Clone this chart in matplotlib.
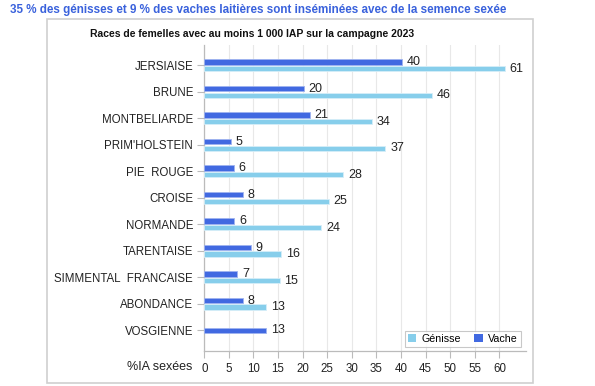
import numpy as np
import matplotlib
matplotlib.use("Agg")
import matplotlib.pyplot as plt
from matplotlib.patches import Rectangle, Patch
from matplotlib import font_manager

plt.rcParams['font.family'] = ['Liberation Sans', 'DejaVu Sans']

races = ["JERSIAISE", "BRUNE", "MONTBELIARDE", "PRIM'HOLSTEIN", "PIE  ROUGE",
         "CROISE", "NORMANDE", "TARENTAISE", "SIMMENTAL  FRANCAISE", "ABONDANCE", "VOSGIENNE"]
genisse = [61.1, 46.3, 34.1, 36.8, 28.2, 25.3, 23.8, 15.6, 15.3, 12.6, np.nan]
vache = [40.2, 20.2, 21.4, 5.4, 6.0, 7.8, 6.1, 9.4, 6.7, 7.8, 12.6]
xticks = [0, 5, 10, 15, 20, 25, 30, 35, 40, 45, 50, 55, 60]

W, H = 595, 386
fig = plt.figure(figsize=(W / 100, H / 100), dpi=100)

def fx(px):
    return px / W

def fy(py):
    return 1 - py / H

names = {f.name for f in font_manager.fontManager.ttflist}
title_family = ['Liberation Sans Narrow'] if 'Liberation Sans Narrow' in names else ['Liberation Sans']

# outer frame
fig.patches.append(Rectangle((fx(47), fy(383)), fx(533) - fx(47), fy(19) - fy(383),
                             transform=fig.transFigure, fill=False,
                             edgecolor='#CFCFCF', linewidth=1.2))

renderer = fig.canvas.get_renderer()

def fit_text(x, y, s, target_w, size, **kw):
    t = fig.text(x, y, s, fontsize=size, **kw)
    w = t.get_window_extent(renderer=renderer).width
    t.set_fontsize(size * target_w / w)
    return t

fit_text(fx(10), fy(10), "35 % des génisses et 9 % des vaches laitières sont inséminées avec de la semence sexée",
         497, 10, ha='left', va='center', fontweight='bold', color='#3A62DC', family=title_family)
fit_text(fx(252.5), fy(34), "Races de femelles avec au moins 1 000 IAP sur la campagne 2023",
         325, 8, ha='center', va='center', fontweight='bold', color='#111111')

ax = fig.add_axes([fx(204.3), fy(350.7), fx(526) - fx(204.3), fy(45) - fy(350.7)])

c_gen = '#87CEEB'
c_vac = '#4169E1'
n = len(races)
ypos = np.arange(n)
bh = 0.2
for i in range(n):
    g = genisse[i]
    v = vache[i]
    if np.isnan(g):
        ax.barh(ypos[i], v, height=bh, color=c_vac, edgecolor='#9FB3EF', linewidth=0.6, zorder=3)
        ax.annotate(f"{v:.0f}", (v, ypos[i]), xytext=(3.5, 0), textcoords='offset points',
                    ha='left', va='center', fontsize=9, color='#222222')
    else:
        ax.barh(ypos[i] - 0.125, v, height=bh, color=c_vac, edgecolor='#9FB3EF', linewidth=0.6, zorder=3)
        ax.barh(ypos[i] + 0.125, g, height=bh, color=c_gen, edgecolor='#D6EEF8', linewidth=0.6, zorder=3)
        ax.annotate(f"{v:.0f}", (v, ypos[i] - 0.125), xytext=(3.5, 0), textcoords='offset points',
                    ha='left', va='center', fontsize=9, color='#222222')
        ax.annotate(f"{g:.0f}", (g, ypos[i] + 0.125), xytext=(3.5, 0), textcoords='offset points',
                    ha='left', va='center', fontsize=9, color='#222222')

ax.set_xlim(0, 65.4)
ax.set_ylim(n - 1 + 0.77, -0.77)
ax.set_yticks(ypos)
ax.set_yticklabels(races, fontsize=8.3, color='#222222')
ax.set_xticks(xticks)
ax.set_xticklabels([str(t) for t in xticks], fontsize=8.3, color='#222222')
ax.tick_params(axis='both', color='#BBBBBB', length=5, width=0.8)
ax.tick_params(axis='y', pad=3)
ax.tick_params(axis='x', pad=4)
for s in ['top', 'right']:
    ax.spines[s].set_visible(False)
for s in ['left', 'bottom']:
    ax.spines[s].set_color('#BBBBBB')
    ax.spines[s].set_linewidth(0.9)
ax.grid(axis='x', color='#E8E8E8', linewidth=0.8, zorder=0)
ax.set_axisbelow(True)

fig.text(fx(192), fy(367), "%IA sexées", ha='right', va='center', fontsize=9, color='#222222')

handles = [Patch(facecolor=c_gen, edgecolor='none', label='Génisse'),
           Patch(facecolor=c_vac, edgecolor='none', label='Vache')]
leg = ax.legend(handles=handles, loc='lower right', bbox_to_anchor=(fx(521), fy(347)),
                bbox_transform=fig.transFigure, ncol=2, fontsize=7.7, frameon=True,
                fancybox=False, handlelength=0.8, handleheight=0.8, handletextpad=0.5,
                columnspacing=1.2, borderpad=0.3, borderaxespad=0)
leg.get_frame().set_edgecolor('#BBBBBB')
leg.get_frame().set_linewidth(0.8)

fig.savefig("out.png", dpi=100)
